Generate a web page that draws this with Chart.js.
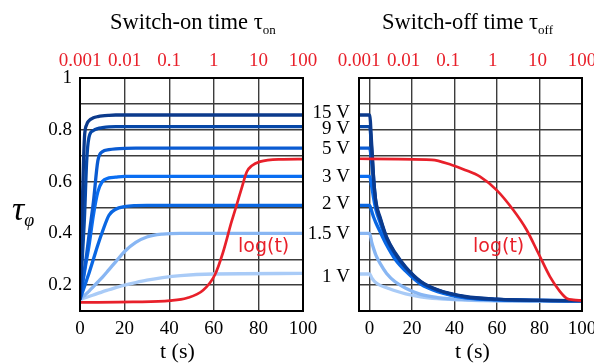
<!DOCTYPE html>
<html><head><meta charset="utf-8">
<script src="https://cdn.jsdelivr.net/npm/chart.js@4/dist/chart.umd.min.js"></script>
<style>
body{margin:0;background:#fff;width:594px;height:363px;overflow:hidden;position:relative;font-family:"Liberation Serif",serif;}
canvas{position:absolute;top:0}
.t{position:absolute;white-space:nowrap;color:#000;line-height:1}
.sub{position:relative;top:5px}
.red{color:#e8202a;font-family:"DejaVu Sans",sans-serif;font-size:19px}
</style></head><body>
<canvas id="c1" width="330" height="363" style="left:0"></canvas>
<canvas id="c2" width="289" height="363" style="left:305px"></canvas>
<div class="t" style="left:110px;top:11px;font-size:22.5px">Switch-on time τ<span class="sub" style="font-size:13px">on</span></div>
<div class="t" style="left:382px;top:11px;font-size:22.5px">Switch-off time τ<span class="sub" style="font-size:13px">off</span></div>
<div class="t" style="left:12px;top:192px;font-size:34px;font-style:italic">τ<span style="font-size:18px;position:relative;top:6px">φ</span></div>
<div class="t" style="left:160px;top:340px;font-size:22px">t (s)</div>
<div class="t" style="left:455px;top:340px;font-size:22px">t (s)</div>
<div class="t red" style="left:238px;top:236px">log(t)</div>
<div class="t red" style="left:473px;top:236px">log(t)</div>
<script>
// ---- data ----
const xTicks = [0, 20, 40, 60, 80, 100];
const xTickLabels = ['0', '20', '40', '60', '80', '100'];
const logTicks = [0.001, 0.01, 0.1, 1, 10, 100];
const logTickLabels = ['0.001', '0.01', '0.1', '1', '10', '100'];
const yLabelValues = [0.2, 0.4, 0.6, 0.8, 1];
const yLabelTexts = ['0.2', '0.4', '0.6', '0.8', '1'];
const voltLabels = ['15 V', '9 V', '5 V', '3 V', '2 V', '1.5 V', '1 V'];
const voltLabelPos = [0.865, 0.803, 0.726, 0.618, 0.513, 0.397, 0.231];

// switch-on (linear t axis)
const tOn = [0, 1, 2, 3, 4, 6, 8, 10, 13, 16, 20, 25, 30, 37, 45, 60, 100];
const on15 = [0.145, 0.5, 0.77, 0.82, 0.835, 0.846, 0.851, 0.854, 0.856, 0.857, 0.857, 0.857, 0.857, 0.857, 0.857, 0.857, 0.857];
const on9 = [0.145, 0.3, 0.46, 0.68, 0.77, 0.797, 0.805, 0.808, 0.811, 0.812, 0.812, 0.812, 0.812, 0.812, 0.812, 0.812, 0.812];
const on5 = [0.145, 0.2, 0.26, 0.32, 0.39, 0.52, 0.68, 0.715, 0.723, 0.726, 0.728, 0.729, 0.729, 0.729, 0.729, 0.729, 0.729];
const on3 = [0.145, 0.2, 0.25, 0.3, 0.35, 0.47, 0.56, 0.6, 0.614, 0.617, 0.62, 0.62, 0.62, 0.62, 0.62, 0.62, 0.62];
const on2 = [0.145, 0.17, 0.195, 0.22, 0.245, 0.3, 0.355, 0.405, 0.47, 0.493, 0.503, 0.507, 0.508, 0.508, 0.508, 0.508, 0.508];
const on15v = [0.145, 0.152, 0.16, 0.168, 0.176, 0.194, 0.212, 0.23, 0.26, 0.29, 0.33, 0.365, 0.386, 0.397, 0.4, 0.4, 0.4];
const on1 = [0.145, 0.147, 0.15, 0.153, 0.156, 0.162, 0.168, 0.174, 0.182, 0.19, 0.2, 0.21, 0.219, 0.229, 0.237, 0.243, 0.245];
// switch-on log(t) (log time axis)
const tLogOn = [0.001, 0.0155, 0.105, 0.25, 0.575, 1.06, 1.6, 2.5, 3.26, 4.2, 5.5, 7.1, 10.9, 30, 100];
const redOn = [0.133, 0.135, 0.14, 0.15, 0.18, 0.24, 0.325, 0.445, 0.51, 0.574, 0.638, 0.661, 0.677, 0.686, 0.687];

// switch-off
const tOff = [-5, 0, 1, 2, 3, 5, 8, 12, 17, 24, 32, 45, 60, 80, 100];
const off15 = [0.857, 0.857, 0.74, 0.6, 0.52, 0.46, 0.385, 0.325, 0.27, 0.215, 0.182, 0.156, 0.146, 0.141, 0.14];
const off9 = [0.812, 0.812, 0.72, 0.6, 0.515, 0.455, 0.382, 0.322, 0.268, 0.213, 0.181, 0.155, 0.145, 0.141, 0.14];
const off5 = [0.729, 0.729, 0.67, 0.58, 0.51, 0.45, 0.378, 0.318, 0.265, 0.211, 0.18, 0.154, 0.145, 0.141, 0.14];
const off3 = [0.62, 0.62, 0.58, 0.53, 0.49, 0.44, 0.372, 0.313, 0.262, 0.209, 0.178, 0.153, 0.144, 0.141, 0.14];
const off2 = [0.508, 0.508, 0.485, 0.46, 0.44, 0.405, 0.355, 0.3, 0.254, 0.204, 0.175, 0.151, 0.143, 0.14, 0.139];
const off15v = [0.4, 0.4, 0.365, 0.338, 0.315, 0.283, 0.245, 0.213, 0.188, 0.164, 0.152, 0.144, 0.14, 0.139, 0.138];
const off1 = [0.243, 0.243, 0.228, 0.217, 0.209, 0.199, 0.19, 0.178, 0.166, 0.155, 0.148, 0.142, 0.139, 0.138, 0.137];
const tLogOff = [0.001, 0.043, 0.12, 0.238, 0.517, 1.22, 2.88, 5.75, 10.5, 19.1, 32.2, 45.5, 63.7, 100];
const redOff = [0.688, 0.684, 0.664, 0.645, 0.619, 0.567, 0.49, 0.413, 0.323, 0.233, 0.175, 0.149, 0.143, 0.14];

const colors = ['#0b3a8c', '#0647a8', '#0a5bd2', '#0a6ef2', '#0a67e2', '#88b6f3', '#a9cbf7'];
const RED = '#e8202a';

Chart.defaults.font.family = '"Liberation Serif", serif';
Chart.defaults.color = '#000';

const pts = (xs, ys) => xs.map((x, i) => ({x: x, y: ys[i]}));
function blue(xs, ys, i) {
  return {data: pts(xs, ys), borderColor: colors[i], borderWidth: 3.3, pointRadius: 0,
    cubicInterpolationMode: 'monotone', xAxisID: 'x', yAxisID: 'y'};
}
function redSet(xs, ys) {
  return {data: pts(xs, ys), borderColor: RED, borderWidth: 2.7, pointRadius: 0,
    cubicInterpolationMode: 'monotone', xAxisID: 'xt', yAxisID: 'y'};
}
const frame = {
  id: 'frame',
  afterDatasetsDraw(chart) {
    const a = chart.chartArea, c = chart.ctx;
    c.save(); c.strokeStyle = '#000'; c.lineWidth = 2;
    c.strokeRect(a.left, a.top, a.right - a.left, a.bottom - a.top);
    c.restore();
  }
};
const gridCol = '#3c3c3c';
function xAxes(minX, bottomH) {
  return {
    x: {type: 'linear', position: 'bottom', min: minX, max: 100,
      afterBuildTicks: s => { s.ticks = xTicks.map(v => ({value: v})); },
      afterFit: s => { s.height = bottomH; s.paddingLeft = 0; s.paddingRight = 0; },
      ticks: {autoSkip: false, maxRotation: 0, padding: 7, font: {size: 19},
        callback: (v) => { const i = xTicks.indexOf(v); return i >= 0 ? xTickLabels[i] : ''; }},
      grid: {color: gridCol, lineWidth: 1.4, drawTicks: false}, border: {display: false}},
    xt: {type: 'logarithmic', position: 'top', min: 0.001, max: 100,
      afterBuildTicks: s => { s.ticks = logTicks.map(v => ({value: v})); },
      afterFit: s => { s.height = 78; s.paddingLeft = 0; s.paddingRight = 0; },
      ticks: {autoSkip: false, maxRotation: 0, padding: 6, color: RED, font: {size: 19},
        callback: (v) => { const i = logTicks.findIndex(a => Math.abs(a - v) / a < 1e-6); return i >= 0 ? logTickLabels[i] : ''; }},
      grid: {display: false, drawTicks: false}, border: {display: false}}
  };
}

const onSets = [redSet(tLogOn, redOn), blue(tOn, on15, 0), blue(tOn, on9, 1), blue(tOn, on5, 2),
  blue(tOn, on3, 3), blue(tOn, on2, 4), blue(tOn, on15v, 5), blue(tOn, on1, 6)];
const sc1 = xAxes(0, 52);
sc1.y = {type: 'linear', position: 'left', min: 0.1, max: 1,
  afterFit: s => { s.width = 80; },
  ticks: {stepSize: 0.1, padding: 8, font: {size: 19},
    callback: (v) => { const i = yLabelValues.findIndex(a => Math.abs(a - v) < 1e-6); return i >= 0 ? yLabelTexts[i] : ''; }},
  grid: {color: gridCol, lineWidth: 1.4, drawTicks: false}, border: {display: false}};
new Chart(document.getElementById('c1'), {
  type: 'line', data: {datasets: onSets},
  options: {responsive: false, animation: false, devicePixelRatio: 1,
    layout: {padding: {left: 0, right: 27, top: 0, bottom: 0}},
    plugins: {legend: {display: false}, tooltip: {enabled: false}},
    scales: sc1},
  plugins: [frame]
});

const offSets = [redSet(tLogOff, redOff), blue(tOff, off15, 0), blue(tOff, off9, 1), blue(tOff, off5, 2),
  blue(tOff, off3, 3), blue(tOff, off2, 4), blue(tOff, off15v, 5), blue(tOff, off1, 6)];
const sc2 = xAxes(-5, 52);
sc2.y = {type: 'linear', position: 'left', min: 0.1, max: 1,
  afterFit: s => { s.width = 0; },
  ticks: {stepSize: 0.1, display: false},
  grid: {color: gridCol, lineWidth: 1.4, drawTicks: false}, border: {display: false}};
sc2.yv = {type: 'linear', position: 'left', min: 0.1, max: 1,
  afterBuildTicks: s => { s.ticks = voltLabelPos.map(v => ({value: v})); },
  afterFit: s => { s.width = 54; },
  ticks: {autoSkip: false, padding: 9, font: {size: 19},
    callback: (v) => { const i = voltLabelPos.indexOf(v); return i >= 0 ? voltLabels[i] : ''; }},
  grid: {display: false, drawTicks: false}, border: {display: false}};
new Chart(document.getElementById('c2'), {
  type: 'line', data: {datasets: offSets},
  options: {responsive: false, animation: false, devicePixelRatio: 1,
    layout: {padding: {left: 0, right: 12, top: 0, bottom: 0}},
    plugins: {legend: {display: false}, tooltip: {enabled: false}},
    scales: sc2},
  plugins: [frame]
});
</script>
</body></html>
